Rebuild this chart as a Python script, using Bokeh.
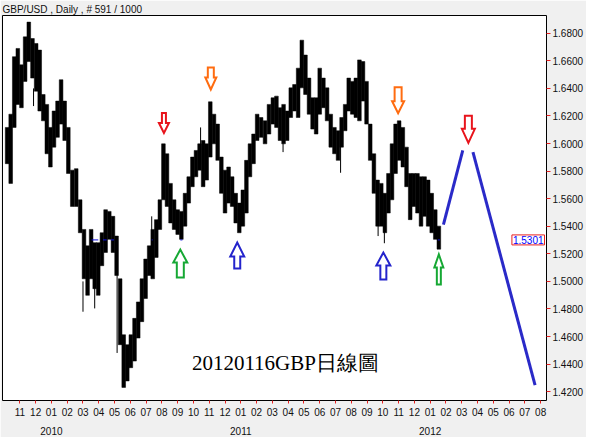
import pandas as pd
from bokeh.plotting import figure
from bokeh.models import FixedTicker, LinearAxis, Label, PrintfTickFormatter
from bokeh.embed import file_html
from bokeh.resources import INLINE

# ---------------- data ----------------
HEADER = "GBP/USD , Daily , # 591 / 1000"
CAPTION = "20120116GBP日線圖"
LAST_PRICE = 1.5301

# weekly envelope of the daily bars (week centres, Wednesdays)
WEEK_FIRST = "2009-10-07"
WEEK_HIGH = [
    1.6117, 1.6213, 1.6630, 1.6690, 1.6571, 1.6774, 1.6881, 1.6762, 1.6726, 1.6678,
    1.6356, 1.6284, 1.6117, 1.6236, 1.6308, 1.6463, 1.6308, 1.6117, 1.5807, 1.5818,
    1.5592, 1.5377, 1.5258, 1.5377, 1.5281, 1.5281, 1.5353, 1.5520, 1.5508, 1.5472,
    1.5329, 1.5019, 1.4613, 1.4541, 1.4613, 1.4732, 1.4851, 1.5019, 1.5162, 1.5258,
    1.5377, 1.5448, 1.5592, 1.5998, 1.5926, 1.5711, 1.5592, 1.5520, 1.5508, 1.5639,
    1.5759, 1.5902, 1.5950, 1.5998, 1.6022, 1.5998, 1.6303, 1.6213, 1.6141, 1.5902,
    1.5807, 1.5830, 1.5759, 1.5639, 1.5568, 1.5663, 1.5878, 1.5998, 1.6069, 1.6213,
    1.6189, 1.6165, 1.6284, 1.6332, 1.6344, 1.6260, 1.6284, 1.6236, 1.6404, 1.6428,
    1.6547, 1.6750, 1.6642, 1.6475, 1.6332, 1.6332, 1.6547, 1.6475, 1.6404, 1.6213,
    1.6117, 1.6093, 1.6189, 1.6284, 1.6475, 1.6451, 1.6475, 1.6607, 1.6595, 1.6451,
    1.6141, 1.5926, 1.5735, 1.5711, 1.5639, 1.5783, 1.5998, 1.6141, 1.6165, 1.6117,
    1.5974, 1.5783, 1.5783, 1.5783, 1.5759, 1.5759, 1.5735, 1.5639, 1.5520, 1.5401,
]
WEEK_LOW = [
    1.5854, 1.5711, 1.6117, 1.6284, 1.6260, 1.6451, 1.6595, 1.6475, 1.6380, 1.6236,
    1.6165, 1.5926, 1.5830, 1.5974, 1.6045, 1.6141, 1.6022, 1.5783, 1.5544, 1.5544,
    1.5353, 1.5019, 1.4899, 1.5019, 1.4947, 1.4899, 1.5114, 1.5210, 1.5305, 1.5210,
    1.5043, 1.4541, 1.4231, 1.4278, 1.4374, 1.4422, 1.4589, 1.4708, 1.4876, 1.5043,
    1.5019, 1.5174, 1.5377, 1.5592, 1.5544, 1.5424, 1.5377, 1.5341, 1.5305, 1.5401,
    1.5568, 1.5687, 1.5759, 1.5807, 1.5687, 1.5735, 1.5902, 1.5998, 1.5878, 1.5639,
    1.5496, 1.5568, 1.5544, 1.5424, 1.5353, 1.5401, 1.5496, 1.5759, 1.5854, 1.6022,
    1.6045, 1.5998, 1.6069, 1.6141, 1.6117, 1.6022, 1.5998, 1.6022, 1.6189, 1.6236,
    1.6189, 1.6404, 1.6356, 1.6213, 1.6105, 1.6069, 1.6213, 1.6260, 1.6165, 1.5974,
    1.5926, 1.5878, 1.5974, 1.6093, 1.6236, 1.6213, 1.6189, 1.6165, 1.6308, 1.6141,
    1.5878, 1.5639, 1.5401, 1.5401, 1.5353, 1.5496, 1.5592, 1.5783, 1.5878, 1.5830,
    1.5687, 1.5448, 1.5544, 1.5496, 1.5401, 1.5472, 1.5401, 1.5353, 1.5305, 1.5234,
]

# single daily bars whose wicks stick out of the weekly envelope
SPIKE_DATE = ["2009-11-27", "2010-03-01", "2010-03-24", "2010-05-06", "2010-07-12",
              "2010-10-15", "2011-03-22", "2011-07-11", "2011-09-22", "2011-10-04"]
SPIKE_HIGH = [1.6400, 1.5000, 1.4990, 1.5050, 1.5472, 1.6117, 1.6200, 1.6100, 1.5500, 1.5450]
SPIKE_LOW = [1.6272, 1.4780, 1.4804, 1.4481, 1.5300, 1.5850, 1.5938, 1.5788, 1.5329, 1.5277]

# short blue marks at the last price
MARK_START = ["2010-03-18", "2010-04-09", "2010-04-24", "2010-07-12", "2010-09-06", "2012-01-16"]
MARK_END = ["2010-03-31", "2010-04-16", "2010-04-30", "2010-07-14", "2010-09-10", "2012-01-20"]

# projected path (blue)
PROJ1_DATE = ["2012-01-27", "2012-03-03"]
PROJ1_PRICE = [1.5412, 1.5950]
PROJ2_DATE = ["2012-03-23", "2012-07-21"]
PROJ2_PRICE = [1.5938, 1.4248]

# hollow arrows: tip position
ARROW_DATE = ["2010-08-05", "2010-11-04", "2011-10-31", "2012-03-14",
              "2010-09-06", "2010-12-25", "2011-10-02", "2012-01-18"]
ARROW_TIP = [1.6069, 1.6385, 1.6213, 1.5998, 1.5238, 1.5289, 1.5217, 1.5203]
ARROW_DIR = ["down", "down", "down", "down", "up", "up", "up", "up"]
ARROW_COLOR = ["#e8141c", "#ff6c10", "#ff6c10", "#e8141c",
               "#16a834", "#2424cc", "#2424cc", "#16a834"]
# arrow sizes in px: length, head length, head width, shaft width
ARROW_SIZE = [(22, 11, 12, 6), (24, 13, 13, 8), (28, 13, 14, 9), (29, 15, 15, 9),
              (30, 14, 16, 9), (28, 15, 16, 8), (29, 14, 16, 8), (32, 14, 11, 6)]

Y_TICKS = [1.42, 1.44, 1.46, 1.48, 1.50, 1.52, 1.54, 1.56, 1.58, 1.60, 1.62, 1.64, 1.66, 1.68]
MONTH_LABELS = ["11", "12", "01", "02", "03", "04", "05", "06", "07", "08", "09", "10",
                "11", "12", "01", "02", "03", "04", "05", "06", "07", "08", "09", "10",
                "11", "12", "01", "02", "03", "04", "05", "06", "07", "08"]
YEAR_LABELS = {2: "2010", 14: "2011", 26: "2012"}


def mpos(d):
    """date -> months since 2009-11-01 (one unit per month)"""
    d = pd.Timestamp(d)
    return (d.year - 2009) * 12 + (d.month - 11) + (d.day - 1) / d.days_in_month


# ---------------- layout ----------------
X0, X1 = -1.10, 33.37
Y0, Y1 = 1.4136, 1.6929
FW, FH = 544, 385
LEFT = 2
XPP = (X1 - X0) / FW
YPP = (Y1 - Y0) / FH

p = figure(frame_width=FW, frame_height=FH, x_range=(X0, X1), y_range=(Y0, Y1),
           y_axis_location="right", output_backend="svg", toolbar_location=None,
           min_border_left=LEFT, min_border_right=0, min_border_top=0, min_border_bottom=0,
           border_fill_color="#f0f0f0", background_fill_color="white",
           outline_line_color="black", outline_line_width=1)
p.grid.visible = False

p.title.text = HEADER
p.title.text_font = "Liberation Sans"
p.title.text_font_size = "10px"
p.title.text_font_style = "normal"
p.title.text_color = "#111111"
p.title.align = "left"
p.title.standoff = 2
p.title.offset = 0

# bottom month axis
xa = p.xaxis[0]
xa.ticker = FixedTicker(ticks=list(range(len(MONTH_LABELS))))
xa.major_label_overrides = {i: s for i, s in enumerate(MONTH_LABELS)}
xa.axis_line_color = None
xa.major_tick_line_color = "#e82020"
xa.major_tick_out = 3
xa.major_tick_in = 0
xa.minor_tick_line_color = None
xa.major_label_standoff = 4
xa.major_label_text_font = "Liberation Sans"
xa.major_label_text_font_size = "10px"
xa.major_label_text_color = "#111111"

# year axis
yr = LinearAxis(ticker=FixedTicker(ticks=list(YEAR_LABELS.keys())),
                major_label_overrides=YEAR_LABELS,
                axis_line_color=None, major_tick_line_color=None, minor_tick_line_color=None,
                major_label_standoff=2, major_label_text_font="Liberation Sans",
                major_label_text_font_size="10px", major_label_text_color="#111111")
p.add_layout(yr, "below")

# right price axis
ya = p.yaxis[0]
ya.ticker = FixedTicker(ticks=Y_TICKS)
ya.formatter = PrintfTickFormatter(format="%.4f")
ya.axis_line_color = None
ya.major_tick_line_color = "#e82020"
ya.major_tick_out = 4
ya.major_tick_in = 0
ya.minor_tick_line_color = None
ya.major_label_standoff = 2
ya.major_label_text_font = "Liberation Sans"
ya.major_label_text_font_size = "10px"
ya.major_label_text_color = "#111111"

# ---------------- marks ----------------
week_x = [mpos(d) for d in pd.date_range(WEEK_FIRST, periods=len(WEEK_HIGH), freq="7D")]
p.vbar(x=week_x, width=0.232, top=WEEK_HIGH, bottom=WEEK_LOW, fill_color="black",
       line_color="black", line_width=0.5)

sx = [mpos(d) for d in SPIKE_DATE]
p.segment(x0=sx, y0=SPIKE_HIGH, x1=sx, y1=SPIKE_LOW, line_color="black", line_width=1)

p.segment(x0=[mpos(d) for d in MARK_START], x1=[mpos(d) for d in MARK_END],
          y0=[LAST_PRICE] * len(MARK_START), y1=[LAST_PRICE] * len(MARK_START),
          line_color="#1010e0", line_width=1)

p.multi_line(xs=[[mpos(d) for d in PROJ1_DATE], [mpos(d) for d in PROJ2_DATE]],
             ys=[PROJ1_PRICE, PROJ2_PRICE], line_color="#2a2ac8", line_width=3)

axs, ays = [], []
for d, tip, dr, (L, H, W, S) in zip(ARROW_DATE, ARROW_TIP, ARROW_DIR, ARROW_SIZE):
    L, H, W, S = L - 2, H - 1, W - 2, S - 2
    sgn = 1 if dr == "down" else -1
    pts = [(-S / 2, L), (-S / 2, H), (-W / 2, H), (0, 0), (W / 2, H), (S / 2, H), (S / 2, L)]
    tx = mpos(d)
    ty = tip + sgn * 1 * YPP
    axs.append([tx + px * XPP for px, py in pts])
    ays.append([ty + sgn * py * YPP for px, py in pts])
p.patches(xs=axs, ys=ays, fill_color="white", line_color=ARROW_COLOR, line_width=2,
          line_join="miter")

p.add_layout(Label(x=mpos("2010-09-28"), y=1.4407, text=CAPTION, text_baseline="middle",
                   text_font="Liberation Serif", text_font_size="21px", text_color="black"))

# last-price box, kept just inside the right edge of the plot area (annotations are clipped)
p.add_layout(Label(x=X1 - 2 * XPP, y=LAST_PRICE, text=f"{LAST_PRICE:.4f}",
                   text_align="right", text_baseline="middle",
                   text_font="Liberation Sans", text_font_size="10px",
                   text_color="#0000ff", border_line_color="#e82020",
                   background_fill_color="white", padding=1))

open("out.html", "w").write(file_html(p, INLINE))
